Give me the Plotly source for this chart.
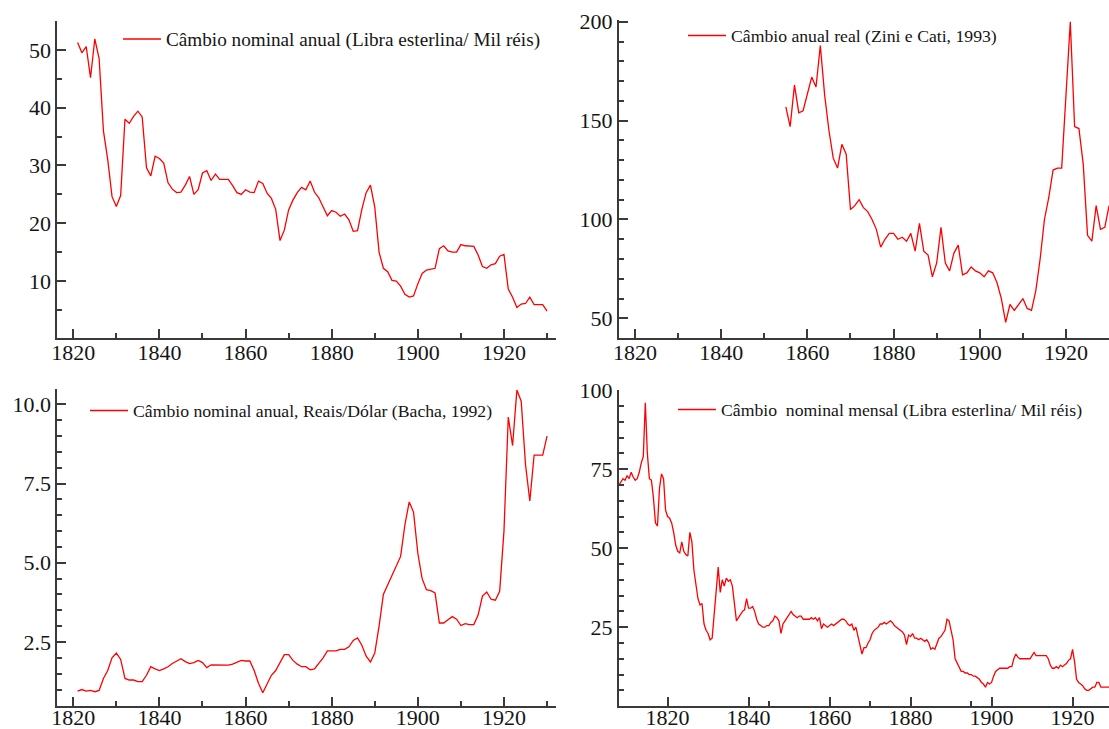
import plotly.graph_objects as go

# ---------------- DATA ----------------
anos_anual = list(range(1821, 1931))
cambio_nominal_anual = [
    51.3, 49.5, 50.6, 45.2, 51.9, 48.5, 36.0, 31.0, 24.6, 22.9,   # 1821-1830
    24.8, 38.0, 37.3, 38.5, 39.4, 38.4, 29.6, 28.2, 31.6, 31.2,   # 1831-1840
    30.4, 27.0, 25.9, 25.3, 25.4, 26.6, 28.1, 25.0, 25.8, 28.7,   # 1841-1850
    29.1, 27.4, 28.5, 27.6, 27.6, 27.6, 26.5, 25.3, 25.0, 25.8,   # 1851-1860
    25.4, 25.3, 27.3, 26.9, 25.2, 24.3, 22.4, 17.0, 18.8, 22.3,   # 1861-1870
    24.0, 25.3, 26.2, 25.8, 27.3, 25.4, 24.4, 22.8, 21.3, 22.2,   # 1871-1880
    21.9, 21.2, 21.6, 20.6, 18.6, 18.7, 22.4, 25.3, 26.6, 22.8,   # 1881-1890
    15.0, 12.2, 11.6, 10.1, 10.0, 9.1, 7.7, 7.2, 7.4, 9.5,        # 1891-1900
    11.3, 11.9, 12.0, 12.2, 15.6, 16.1, 15.2, 15.0, 15.0, 16.3,   # 1901-1910
    16.1, 16.1, 16.0, 14.5, 12.5, 12.2, 12.8, 13.0, 14.3, 14.6,   # 1911-1920
    8.6, 7.2, 5.4, 6.0, 6.1, 7.2, 5.9, 5.9, 5.9, 4.8,             # 1921-1930
]

anos_real = list(range(1855, 1931))
cambio_real = [
    157, 147, 168, 154, 155, 163,                                  # 1855-1860
    172, 167, 188, 163, 145, 131, 126, 138, 133, 105,              # 1861-1870
    107, 110, 106, 104, 100, 95, 86, 90, 93, 93,                   # 1871-1880
    90, 91, 89, 93, 84, 98, 84, 82, 71, 78,                        # 1881-1890
    96, 78, 74, 83, 87, 72, 73, 76, 74, 73,                        # 1891-1900
    71, 74, 73, 68, 60, 48, 57, 54, 57, 60,                        # 1901-1910
    55, 54, 64, 80, 100, 111, 125, 126, 126, 165,                  # 1911-1920
    200, 147, 146, 128, 92, 89, 107, 95, 96, 107,                  # 1921-1930
]

reais_dolar = [
    0.95, 1.0, 0.95, 0.97, 0.93, 0.97, 1.35, 1.6, 2.0, 2.15,       # 1821-1830
    1.95, 1.35, 1.3, 1.3, 1.25, 1.25, 1.45, 1.72, 1.65, 1.6,       # 1831-1840
    1.65, 1.72, 1.82, 1.9, 1.97, 1.88, 1.82, 1.85, 1.92, 1.85,     # 1841-1850
    1.69, 1.78, 1.78, 1.77, 1.77, 1.77, 1.8, 1.85, 1.92, 1.9,      # 1851-1860
    1.9, 1.6, 1.2, 0.9, 1.2, 1.45, 1.6, 1.85, 2.1, 2.1,            # 1861-1870
    1.92, 1.8, 1.72, 1.72, 1.62, 1.65, 1.82, 2.0, 2.22, 2.22,      # 1871-1880
    2.22, 2.27, 2.27, 2.35, 2.55, 2.63, 2.4, 2.05, 1.87, 2.15,     # 1881-1890
    3.0, 4.0, 4.3, 4.6, 4.95, 5.2, 6.2, 6.92, 6.6, 5.3,            # 1891-1900
    4.5, 4.15, 4.12, 4.05, 3.1, 3.1, 3.2, 3.3, 3.22, 3.02,         # 1901-1910
    3.08, 3.05, 3.05, 3.35, 3.95, 4.08, 3.85, 3.82, 4.1, 6.0,      # 1911-1920
    9.6, 8.7, 10.45, 10.1, 8.1, 6.95, 8.4, 8.4, 8.4, 9.0,          # 1921-1930
]

# semi-annual readings of the monthly series (start of year, mid-year), 1808-1929
cambio_mensal = [
    70, 71, 72, 71.5, 73, 72, 74, 72.5, 71.5, 72,          # 1808-1812
    74, 77, 79, 96, 80, 72, 71.5, 66, 58, 57,              # 1813-1817
    69, 73.5, 72, 62, 60, 59.5, 58, 55, 51, 49,            # 1818-1822
    48.5, 52, 49, 48, 47.5, 55, 52, 43, 39, 34,            # 1823-1827
    32, 32.5, 26, 24, 23, 21, 21.5, 29, 37, 44,            # 1828-1832
    36, 40, 38, 40.5, 39.5, 40, 38, 32, 27, 28,            # 1833-1837
    29, 30, 30.5, 34, 31, 31, 31.5, 30, 27.5, 26,          # 1838-1842
    25.5, 25, 25, 25.5, 25.5, 26.5, 27, 28.5, 28, 27,      # 1843-1847
    23, 26, 27, 28, 29, 30, 29, 28.5, 28, 28.5,            # 1848-1852
    28.5, 27.5, 27.5, 27.5, 27.5, 28, 27.5, 28, 27, 28,    # 1853-1857
    24.5, 26, 25.5, 25, 25.5, 26, 25.5, 26, 26.5, 27,      # 1858-1862
    27.5, 27.5, 27, 26, 25.5, 26, 24, 25, 22, 19.5,        # 1863-1867
    16.5, 18.5, 18.5, 20, 21, 23, 24, 24.5, 25, 26,        # 1868-1872
    26, 26.5, 26, 26.5, 27, 26.5, 25.5, 25, 24.5, 24,      # 1873-1877
    23.5, 22.5, 19.5, 22.5, 22, 23, 21.5, 21.5, 21, 21.5,  # 1878-1882
    21, 20.5, 21, 20, 18, 18.5, 18, 20, 21.5, 22,          # 1883-1887
    23, 24, 27.5, 27, 24, 21, 15, 13.5, 12.5, 11,          # 1888-1892
    11, 10.5, 10.5, 10, 10, 9.5, 9.5, 9, 8.5, 7.5,         # 1893-1897
    7, 6, 7.5, 7, 7.5, 9.5, 11, 11.5, 12, 12,              # 1898-1902
    12, 12, 12, 12.5, 12.5, 15, 16.5, 15.5, 15, 15,        # 1903-1907
    15, 15, 15, 15, 16, 17, 16, 16, 16, 16,                # 1908-1912
    16, 16, 15, 13, 12, 12, 12.5, 12, 13, 12.5,            # 1913-1917
    13, 13.5, 14.5, 15, 18, 14, 8.5, 7.5, 7, 6.5,          # 1918-1922
    5.5, 5, 5, 5.5, 6, 6, 7.5, 7.5, 6, 6,                  # 1923-1927
    6, 6, 6, 6.5,                                          # 1928-1929
]
tempo_mensal = [1808 + 0.5 * i for i in range(len(cambio_mensal))]

nome1 = "Câmbio nominal anual (Libra esterlina/ Mil réis)"
nome2 = "Câmbio anual real (Zini e Cati, 1993)"
nome3 = "Câmbio nominal anual, Reais/Dólar (Bacha, 1992)"
nome4 = "Câmbio\u00a0 nominal mensal (Libra esterlina/ Mil réis)"

# ---------------- LAYOUT HELPERS ----------------
W, H = 1109, 729
def px_x(p):
    return p / W
def px_y(p):
    return 1 - p / H

RED = "#ff0000"
AX = "#3a3a3a"
FONT = "Liberation Serif"
TICKFONT = dict(family=FONT, size=22, color="#151515")

def xaxis(domain, rng, minor, anchor, standoff):
    return dict(domain=domain, range=rng, showgrid=False, zeroline=False,
                showline=True, linecolor=AX, linewidth=2, mirror=False,
                anchor=anchor, automargin=False, ticklabelstandoff=standoff,
                ticks="inside", ticklen=9, tickwidth=1.6, tickcolor=AX,
                tick0=1800, dtick=20, tickfont=TICKFONT, fixedrange=True,
                minor=minor)

def yaxis(domain, rng, dtick, mdtick, fmt, anchor):
    return dict(domain=domain, range=rng, showgrid=False, zeroline=False,
                showline=True, linecolor=AX, linewidth=2, anchor=anchor,
                automargin=False,
                ticks="inside", ticklen=9, tickwidth=1.6, tickcolor=AX,
                tick0=0, dtick=dtick, tickformat=fmt, tickfont=TICKFONT,
                fixedrange=True,
                minor=dict(ticks="inside", ticklen=5, tickwidth=1.6,
                           tickcolor=AX, dtick=mdtick, tick0=0))

minor_std = dict(ticks="inside", ticklen=5, tickwidth=1.6, tickcolor=AX,
                 dtick=10, tick0=1800)
minor_mensal = dict(ticks="inside", ticklen=5, tickwidth=1.6, tickcolor=AX,
                    tickmode="array", tickvals=[1845, 1870, 1895])

fig = go.Figure()
line = dict(color=RED, width=1.3)
fig.add_trace(go.Scatter(x=anos_anual, y=cambio_nominal_anual, mode="lines",
                         line=line, name=nome1, xaxis="x", yaxis="y",
                         legend="legend"))
fig.add_trace(go.Scatter(x=anos_real, y=cambio_real, mode="lines",
                         line=line, name=nome2, xaxis="x2", yaxis="y2",
                         legend="legend2"))
fig.add_trace(go.Scatter(x=anos_anual, y=reais_dolar, mode="lines",
                         line=line, name=nome3, xaxis="x3", yaxis="y3",
                         legend="legend3"))
fig.add_trace(go.Scatter(x=tempo_mensal, y=cambio_mensal, mode="lines",
                         line=line, name=nome4, xaxis="x4", yaxis="y4",
                         legend="legend4"))

top_row = [px_y(337.7), px_y(21.1)]
bot_row = [px_y(706), px_y(388.5)]
left_col = [px_x(57.3), px_x(556)]
right_col = [px_x(619), 1.0]

def leg(xpx, ypx, size):
    return dict(x=px_x(xpx), y=px_y(ypx), xanchor="left", yanchor="middle",
                bgcolor="rgba(0,0,0,0)", borderwidth=0, itemwidth=38,
                font=dict(family=FONT, size=size, color="#151515"))

fig.update_layout(
    template="none",
    width=W, height=H, autosize=False,
    margin=dict(l=0, r=0, t=0, b=0, pad=0),
    paper_bgcolor="white", plot_bgcolor="white",
    hovermode=False, showlegend=True,
    xaxis=xaxis(left_col, [1816.29, 1932.08], minor_std, "y", -6),
    yaxis=yaxis(top_row, [0.18, 55.0], 10, 5, None, "x"),
    xaxis2=xaxis(right_col, [1816.29, 1929.98], minor_std, "y2", -6),
    yaxis2=yaxis([px_y(337.7), px_y(20)], [40.2, 200.9], 50, 10, None, "x2"),
    xaxis3=xaxis(left_col, [1816.29, 1932.08], minor_std, "y3", -9),
    yaxis3=yaxis(bot_row, [0.48, 10.5], 2.5, 0.5, ".1f", "x3"),
    xaxis4=xaxis(right_col, [1808.0, 1929.0], minor_mensal, "y4", -9),
    yaxis4=yaxis([px_y(706), px_y(390)], [0.05, 100.05], 25, 5, None, "x4"),
    legend=leg(118, 39, 19.2),
    legend2=leg(683, 36, 17.7),
    legend3=leg(85, 411, 17.7),
    legend4=leg(673, 410, 17.7),
)

fig.write_html(
    "out.html",
    config=dict(displayModeBar=False),
    post_script="document.body.style.margin='0px';document.body.style.padding='0px';document.body.style.overflow='hidden';",
)
